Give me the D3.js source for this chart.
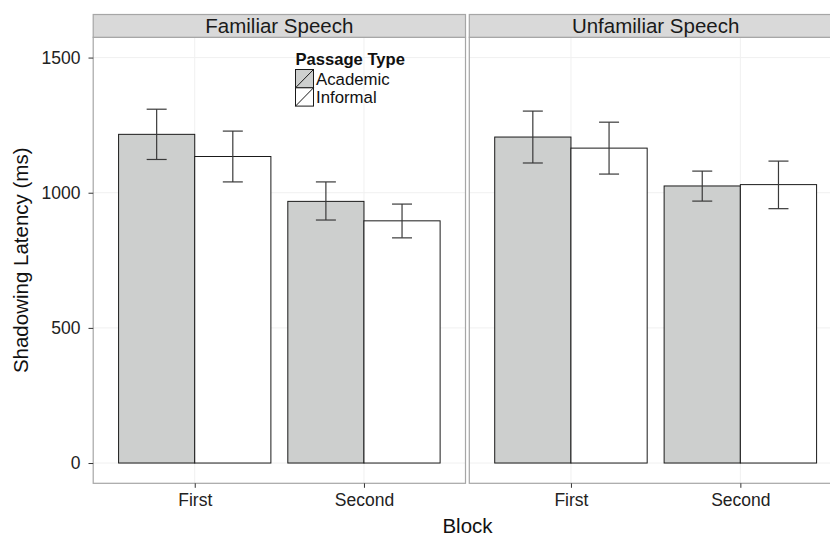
<!DOCTYPE html>
<html>
<head>
<meta charset="utf-8">
<script src="https://cdn.jsdelivr.net/npm/d3@7"></script>
<style>
  html, body { margin: 0; padding: 0; background: #fff; }
  svg { display: block; font-family: "Liberation Sans", Arial, Helvetica, sans-serif; }
</style>
</head>
<body>
<svg id="chart" width="830" height="537"></svg>
<script>
// ---- data ----
const panels = ["Familiar Speech", "Unfamiliar Speech"];
const blocks = ["First", "Second"];
const passageTypes = ["Academic", "Informal"];
const yTicks = [0, 500, 1000, 1500];

// means per panel: [First, Second]
const familiarAcademic = [1216, 968];
const familiarInformal = [1134, 896];
const unfamiliarAcademic = [1206, 1025];
const unfamiliarInformal = [1165, 1030];

// error bar bounds [low, high] per block
const familiarAcademicErr = [[1123, 1309], [899, 1040]];
const familiarInformalErr = [[1040, 1228], [833, 958]];
const unfamiliarAcademicErr = [[1110, 1302], [969, 1080]];
const unfamiliarInformalErr = [[1069, 1261], [941, 1117]];

const fills = ["#cdcfce", "#ffffff"];

const means = [[familiarAcademic, familiarInformal], [unfamiliarAcademic, unfamiliarInformal]];
const errs = [[familiarAcademicErr, familiarInformalErr], [unfamiliarAcademicErr, unfamiliarInformalErr]];

const rows = [];
panels.forEach((p, pi) => {
  passageTypes.forEach((t, ti) => {
    blocks.forEach((b, bi) => {
      rows.push({panel: p, pi, type: t, ti, block: b, mean: means[pi][ti][bi],
                 lo: errs[pi][ti][bi][0], hi: errs[pi][ti][bi][1]});
    });
  });
});

// ---- layout ----
const svg = d3.select("#chart");
const stripTop = 14.5, stripBottom = 37.3, panelBottom = 483.3;
const panelRanges = [[93.2, 465.5], [469.3, 842.0]];

const y = d3.scaleLinear().domain([-75, 1575]).range([panelBottom, stripBottom]);

svg.append("rect").attr("width", 830).attr("height", 537).attr("fill", "#fff");

panels.forEach((pname, pi) => {
  const [x0, x1] = panelRanges[pi];
  const x = d3.scalePoint().domain(blocks).range([x0, x1]).padding(0.6);
  const step = x.step();
  const sub = d3.scaleBand().domain(passageTypes).range([-0.45 * step, 0.45 * step]);

  const g = svg.append("g");

  // grid
  g.selectAll(".hg").data(yTicks).join("line")
    .attr("x1", x0).attr("x2", x1)
    .attr("y1", d => y(d)).attr("y2", d => y(d))
    .attr("stroke", "#f0f0f0").attr("stroke-width", 1);
  g.selectAll(".vg").data(blocks).join("line")
    .attr("x1", d => x(d)).attr("x2", d => x(d))
    .attr("y1", stripBottom).attr("y2", panelBottom)
    .attr("stroke", "#f0f0f0").attr("stroke-width", 1);

  const pr = rows.filter(r => r.pi === pi);

  // bars
  g.selectAll(".bar").data(pr).join("rect")
    .attr("x", d => x(d.block) + sub(d.type))
    .attr("width", sub.bandwidth())
    .attr("y", d => y(d.mean))
    .attr("height", d => y(0) - y(d.mean))
    .attr("fill", d => fills[d.ti])
    .attr("stroke", "#1a1a1a").attr("stroke-width", 1);

  // error bars
  const capHalf = 10;
  const eg = g.selectAll(".err").data(pr).join("g")
    .attr("stroke", "#3a3a3a").attr("stroke-width", 1.2);
  eg.append("line")
    .attr("x1", d => x(d.block) + sub(d.type) + sub.bandwidth() / 2)
    .attr("x2", d => x(d.block) + sub(d.type) + sub.bandwidth() / 2)
    .attr("y1", d => y(d.lo)).attr("y2", d => y(d.hi));
  eg.append("line")
    .attr("x1", d => x(d.block) + sub(d.type) + sub.bandwidth() / 2 - capHalf)
    .attr("x2", d => x(d.block) + sub(d.type) + sub.bandwidth() / 2 + capHalf)
    .attr("y1", d => y(d.hi)).attr("y2", d => y(d.hi));
  eg.append("line")
    .attr("x1", d => x(d.block) + sub(d.type) + sub.bandwidth() / 2 - capHalf)
    .attr("x2", d => x(d.block) + sub(d.type) + sub.bandwidth() / 2 + capHalf)
    .attr("y1", d => y(d.lo)).attr("y2", d => y(d.lo));

  // panel border
  g.append("rect").attr("x", x0).attr("y", stripBottom)
    .attr("width", x1 - x0).attr("height", panelBottom - stripBottom)
    .attr("fill", "none").attr("stroke", "#a6a6a6").attr("stroke-width", 1.2);

  // strip
  g.append("rect").attr("x", x0).attr("y", stripTop)
    .attr("width", x1 - x0).attr("height", stripBottom - stripTop)
    .attr("fill", "#d9d9d9").attr("stroke", "#a6a6a6").attr("stroke-width", 1.2);
  g.append("text").attr("x", (x0 + x1) / 2).attr("y", (stripTop + stripBottom) / 2)
    .attr("dy", "0.35em").attr("text-anchor", "middle")
    .attr("font-size", 20.5).attr("fill", "#1a1a1a").text(pname);

  // x axis
  const xa = svg.append("g").attr("transform", `translate(0,${panelBottom})`)
    .call(d3.axisBottom(x).tickSize(4.5).tickPadding(6));
  xa.select(".domain").remove();
  xa.selectAll(".tick line").attr("stroke", "#333");
  xa.selectAll(".tick text").attr("font-size", 17.5).attr("fill", "#222")
    .attr("font-family", "Liberation Sans, Arial, sans-serif");

  if (pi === 0) {
    const ya = svg.append("g").attr("transform", `translate(${x0},0)`)
      .call(d3.axisLeft(y).tickValues(yTicks).tickFormat(d3.format("d")).tickSize(4.7).tickPadding(8));
    ya.select(".domain").remove();
    ya.selectAll(".tick line").attr("stroke", "#333");
    ya.selectAll(".tick text").attr("font-size", 17.5).attr("fill", "#222")
      .attr("font-family", "Liberation Sans, Arial, sans-serif");
  }
});

// axis titles
svg.append("text").attr("x", 467.5).attr("y", 532.5)
  .attr("text-anchor", "middle").attr("font-size", 20.5).attr("fill", "#111").text("Block");
svg.append("text").attr("transform", `translate(21,${(stripBottom + panelBottom) / 2}) rotate(-90)`)
  .attr("dy", "0.35em").attr("text-anchor", "middle").attr("font-size", 20.5)
  .attr("fill", "#111").text("Shadowing Latency (ms)");

// legend
const lg = svg.append("g").attr("transform", "translate(295.5,0)");
lg.append("text").attr("x", 0).attr("y", 59).attr("dy", "0.35em")
  .attr("font-size", 16.6).attr("font-weight", "bold").attr("fill", "#111").text("Passage Type");
const keyY0 = 69.5, keyH = 18.3, keyW = 18;
const items = lg.selectAll(".item").data(passageTypes).join("g")
  .attr("transform", (d, i) => `translate(0,${keyY0 + i * keyH})`);
items.append("rect").attr("width", keyW).attr("height", keyH)
  .attr("fill", (d, i) => fills[i]).attr("stroke", "#1a1a1a").attr("stroke-width", 1);
items.append("line").attr("x1", 0).attr("y1", keyH).attr("x2", keyW).attr("y2", 0)
  .attr("stroke", "#1a1a1a").attr("stroke-width", 1);
items.append("text").attr("x", keyW + 2.5).attr("y", keyH / 2).attr("dy", "0.35em")
  .attr("font-size", 16.8).attr("fill", "#111").text(d => d);
</script>
</body>
</html>
